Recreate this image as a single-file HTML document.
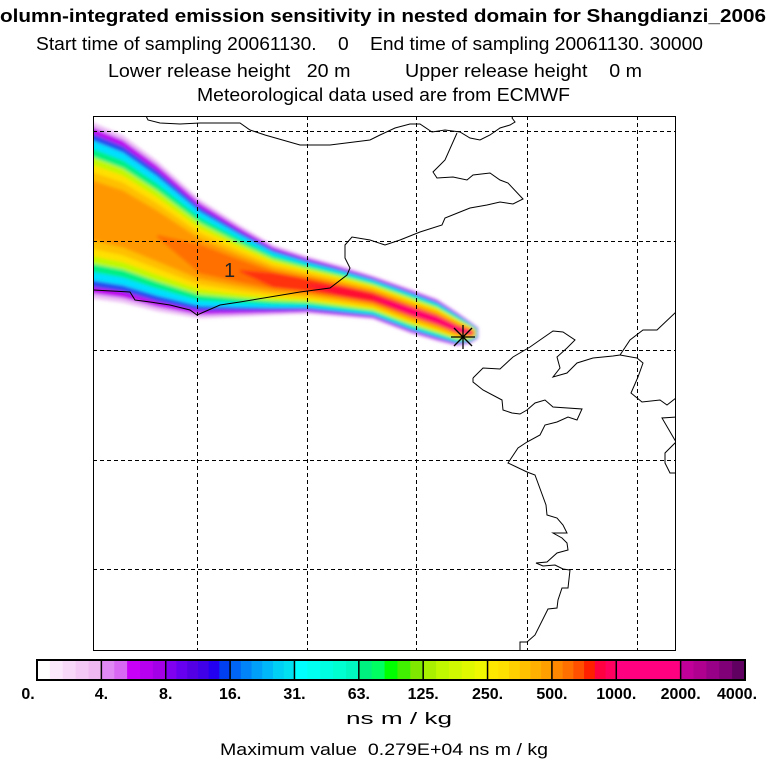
<!DOCTYPE html>
<html><head><meta charset="utf-8"><style>
html,body{margin:0;padding:0;background:#fff;}
svg{display:block;font-family:"Liberation Sans",Arial,sans-serif;}
</style></head><body>
<svg id="chart" width="768" height="768" viewBox="0 0 768 768" xmlns="http://www.w3.org/2000/svg">
<defs>
<filter id="soft" x="-5%" y="-5%" width="110%" height="110%"><feGaussianBlur stdDeviation="1.6"/></filter>
<clipPath id="plotclip"><rect x="93" y="116" width="582" height="534"/></clipPath>
</defs>
<g>
<text x="-15" y="22" font-size="18" font-weight="bold" textLength="781" lengthAdjust="spacingAndGlyphs">Column-integrated emission sensitivity in nested domain for Shangdianzi_2006</text>
<text x="36" y="50" font-size="18" xml:space="preserve" textLength="667" lengthAdjust="spacingAndGlyphs">Start time of sampling 20061130.    0    End time of sampling 20061130. 30000</text>
<text x="108" y="77" font-size="18" xml:space="preserve" textLength="534" lengthAdjust="spacingAndGlyphs">Lower release height   20 m          Upper release height    0 m</text>
<text x="197" y="101" font-size="18" textLength="373" lengthAdjust="spacingAndGlyphs">Meteorological data used are from ECMWF</text>
</g>
<g id="plume" clip-path="url(#plotclip)"></g>
<g id="grid" stroke="#000" stroke-width="1" stroke-dasharray="4,3"></g>
<g fill="none" stroke="#000" stroke-width="1" clip-path="url(#plotclip)">
<polyline points="146,116 148,120 160,123 180,124 200,123 240,123 250,130 265,135 300,145 330,145 370,140 380,135 395,128 410,124 420,124 432,132 445,130 460,132 470,138 480,140 490,135 500,128 510,125 515,122 512,118 513,116"/>
<polyline points="457,133 445,160 440,165 433,172 437,178 453,177 467,180 473,175 490,173 500,180 508,183 523,199 513,204 500,202 487,205 470,208 460,212 445,218 442,225 420,232 400,240 385,245 370,240 352,237 345,245 345,258 350,268 347,275 330,288 300,292 240,302 220,305 197,315 190,310 170,305 150,302 135,300 130,292 93,290"/>
<polyline points="473,378 483,368 500,369 513,357 530,347 540,340 553,331 563,332 575,340 567,348 557,357 560,368 553,377 567,373 577,363 593,358 613,356 620,355 630,340 643,330 657,330 676,312"/>
<polyline points="620,355 637,358 643,363 638,377 631,393 642,402 660,400 667,405 676,398"/>
<polyline points="676,417 662,418 676,442 665,453 665,463 670,473 676,473"/>
<polyline points="473,378 473,382 483,390 502,400 503,410 512,413 520,414 527,410 535,403 545,400 553,407 582,409 577,420 568,417 557,422 545,425 540,435 527,442 518,448 508,463 527,472 535,475 546,505 547,515 557,518 563,525 567,533 553,533 562,538 567,543 568,550 557,553 547,562 536,563 543,566 555,565 563,569 570,570 568,588 562,588 558,600 557,608 548,609 535,635 527,642 520,642 520,652"/>
</g>
<g stroke="#000" stroke-width="1.3">
<line x1="451" y1="337" x2="475" y2="337"/><line x1="463" y1="325" x2="463" y2="349"/>
<line x1="454" y1="328" x2="472" y2="346"/><line x1="472" y1="328" x2="454" y2="346"/>
</g>
<text x="224" y="277" font-size="20" fill="#222">1</text>
<rect x="93.5" y="116.5" width="582" height="534" fill="none" stroke="#000" stroke-width="1"/>
<g id="colorbar"></g>
<text x="346" y="724" font-size="17" textLength="106" lengthAdjust="spacingAndGlyphs">ns m / kg</text>
<text x="220" y="755" font-size="17" xml:space="preserve" textLength="328" lengthAdjust="spacingAndGlyphs">Maximum value  0.279E+04 ns m / kg</text>
</svg>
<script>
// colour scale data
const levelLabels = ["0.","4.","8.","16.","31.","63.","125.","250.","500.","1000.","2000.","4000."];
const segColors = [
 ["#ffffff","#fce8fc","#f8d8f8","#f4c8f4","#f0b8f0"],
 ["#e088f4","#d868f4","#c800f8","#b800f0","#a400e8"],
 ["#8000f0","#6800f0","#5400e4","#4000e8","#2400f0","#0040f0"],
 ["#0064f4","#0084f8","#00a0f8","#00b8f8","#00d0f4","#00e0f0"],
 ["#00ffff","#00fff0","#00ffe0","#00ffd0","#00f8c0"],
 ["#00f080","#00ff60","#00ff00","#40f000","#80e800"],
 ["#a8f000","#c0f800","#d0f800","#e0f800","#f0f800"],
 ["#ffe800","#ffe000","#ffd000","#ffc000","#ffb000","#ffa000"],
 ["#ff8800","#ff7000","#ff5000","#ff2000","#ff0040","#ff0060"],
 ["#ff0080","#ff0080","#ff0080"],
 ["#c00098","#b00090","#980088","#800078","#600060"]
];
// plume geometry (outer edges) by longitude pixel
const plumeX = [93,123,157,200,240,273,307,340,373,410,437,457,470,478];
const plumeTop = [122,140,165,203,228,247,258,267,277,290,300,313,322,328];
const plumeBottom = [292,298,307,315,314,313,312,315,318,332,340,345,343,338];
const gridX = [197,307,416,527,637];
const gridY = [131,241,350,460,569];

const NS="http://www.w3.org/2000/svg";
function mk(tag,attrs,parent){const e=document.createElementNS(NS,tag);for(const k in attrs)e.setAttribute(k,attrs[k]);parent.appendChild(e);return e;}

const grid=document.getElementById('grid');
gridX.forEach(x=>{const l=mk('line',{x1:x+.5,y1:116,x2:x+.5,y2:650},grid);

});
gridY.forEach(y=>{const l=mk('line',{x1:93,y1:y+.5,x2:675,y2:y+.5},grid);

});

const plume=document.getElementById('plume');
const bands=[[1.06,"#ecc0f4",0],[1.0,"#c000f0",0],[0.92,"#2848f0",0],[0.84,"#00e0ff",0],[0.74,"#00f080",0],[0.64,"#c0f800",0],[0.55,"#ffe000",0],[0.46,"#ffc000",0],[0.36,"#ff9800",0],[0.26,"#ff7000",2],[0.22,"#ff3010",4],[0.2,"#ff1030",6],[0.18,"#ff0070",8]];
const gBands=mk('g',{filter:'url(#soft)'},plume);
bands.forEach(([f,col,start])=>{
 const top=[],bot=[];
 for(let i=start;i<plumeX.length;i++){
  const c=(plumeTop[i]+plumeBottom[i])/2,h=(plumeBottom[i]-plumeTop[i])/2;
  const ff=(i===start&&start>0)?0.02:f;
  const x=(i===0?80:plumeX[i]) - (i===plumeX.length-1? (1-f)*6:0);
  top.push(x+','+(c-ff*h));bot.unshift(x+','+(c+ff*h));
 }
 const p=mk('polygon',{points:top.concat(bot).join(' '),fill:col},gBands);
 
 
});

const cb=document.getElementById('colorbar');
const x0=37,x1=745,y0=660,y1=680,nseg=segColors.length,sw=(x1-x0)/nseg;
segColors.forEach((cols,i)=>{
 const subw=sw/cols.length;
 cols.forEach((c,j)=>{const r=mk('rect',{x:x0+i*sw+j*subw,y:y0,width:subw+0.6,height:y1-y0,fill:c},cb);
 
 });
});
for(let i=1;i<nseg;i++){const l=mk('line',{x1:x0+i*sw,y1:y0,x2:x0+i*sw,y2:y1,stroke:'#000','stroke-width':1.5},cb);

}
const fr=mk('rect',{x:x0,y:y0,width:x1-x0,height:y1-y0,fill:'none',stroke:'#000','stroke-width':2},cb);


levelLabels.forEach((t,i)=>{
 let x=x0+i*sw; if(i===0)x=28; if(i===levelLabels.length-1)x=737;
 const tx=mk('text',{x:x,y:699,'font-size':16,'font-weight':'bold','text-anchor':'middle'},cb);
 tx.textContent=t;
 
 
});
</script>
</body></html>
